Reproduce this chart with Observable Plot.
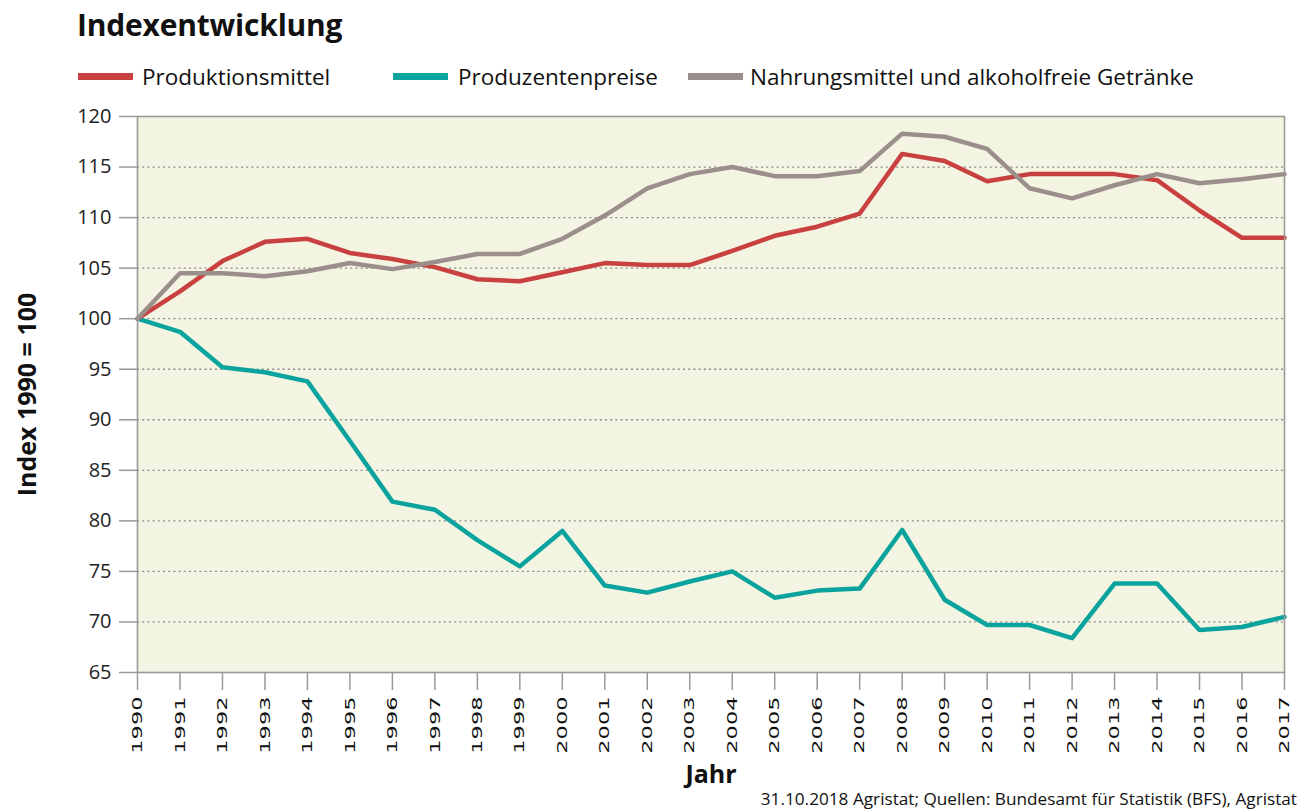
<!DOCTYPE html>
<html>
<head>
<meta charset="utf-8">
<script src="https://cdn.jsdelivr.net/npm/d3@7"></script>
<script src="https://cdn.jsdelivr.net/npm/@observablehq/plot@0.6"></script>
<style>
  html, body { margin: 0; padding: 0; background: #fff; }
  body { width: 1310px; height: 812px; position: relative; overflow: hidden; font-family: "Open Sans", sans-serif; color: #111; }
  #title { position: absolute; left: 77px; top: 6px; font-size: 30px; font-weight: bold; line-height: 37px; letter-spacing: -0.2px; }
  .sw { position: absolute; top: 73px; width: 55px; height: 7px; }
  .lt { position: absolute; top: 64px; font-size: 22.5px; line-height: 26px; }
  #chart { position: absolute; left: 0; top: 100px; }
  #caption { position: absolute; right: 13px; top: 789px; font-size: 17.2px; line-height: 20px; }
</style>
</head>
<body>
<div id="title">Indexentwicklung</div>
<div id="legend"></div>
<div id="chart"></div>
<div id="caption">31.10.2018 Agristat; Quellen: Bundesamt für Statistik (BFS), Agristat</div>
<script>
const years = [1990, 1991, 1992, 1993, 1994, 1995, 1996, 1997, 1998, 1999, 2000, 2001, 2002, 2003, 2004, 2005, 2006, 2007, 2008, 2009, 2010, 2011, 2012, 2013, 2014, 2015, 2016, 2017];
const produktionsmittel = [100, 102.7, 105.7, 107.6, 107.9, 106.5, 105.9, 105.1, 103.9, 103.7, 104.6, 105.5, 105.3, 105.3, 106.7, 108.2, 109.1, 110.4, 116.3, 115.6, 113.6, 114.3, 114.3, 114.3, 113.7, 110.7, 108.0, 108.0];
const produzentenpreise = [100, 98.7, 95.2, 94.7, 93.8, 87.9, 81.9, 81.1, 78.1, 75.5, 79.0, 73.6, 72.9, 74.0, 75.0, 72.4, 73.1, 73.3, 79.1, 72.2, 69.7, 69.7, 68.4, 73.8, 73.8, 69.2, 69.5, 70.5];
const nahrungsmittel = [100, 104.5, 104.5, 104.2, 104.7, 105.5, 104.9, 105.6, 106.4, 106.4, 107.9, 110.2, 112.9, 114.3, 115.0, 114.1, 114.1, 114.6, 118.3, 118.0, 116.8, 112.9, 111.9, 113.2, 114.3, 113.4, 113.8, 114.3];
const seriesNames = ["Produktionsmittel", "Produzentenpreise", "Nahrungsmittel und alkoholfreie Getränke"];
const seriesColors = ["#C8403F", "#0AA39D", "#9A8F8A"];
const yTicks = [65, 70, 75, 80, 85, 90, 95, 100, 105, 110, 115, 120];
const gridTicks = [70, 75, 80, 85, 90, 95, 100, 105, 110, 115];

// legend
const legendX = [[78, 142], [393, 458], [688, 750]];
const legend = document.getElementById("legend");
seriesNames.forEach((n, i) => {
  const s = document.createElement("div");
  s.className = "sw"; s.style.left = legendX[i][0] + "px"; s.style.background = seriesColors[i];
  const t = document.createElement("div");
  t.className = "lt"; t.style.left = legendX[i][1] + "px"; t.textContent = n;
  legend.appendChild(s); legend.appendChild(t);
});

const allValues = [produktionsmittel, produzentenpreise, nahrungsmittel];
const table = [];
seriesNames.forEach((n, i) => years.forEach((y, j) => table.push({series: n, year: y, value: allValues[i][j]})));

const drawOrder = [1, 0, 2];

const plot = Plot.plot({
  width: 1310,
  height: 690,
  marginTop: 16,
  marginBottom: 118,
  marginLeft: 137,
  marginRight: 26,
  style: {fontFamily: "'Open Sans', sans-serif", color: "#222", background: "transparent"},
  x: {domain: [1990, 2017]},
  y: {domain: [65, 120]},
  color: {domain: seriesNames, range: seriesColors},
  marks: [
    Plot.frame({fill: "#F4F4E3"}),
    Plot.gridY(gridTicks, {stroke: "#8a8a8a", strokeOpacity: 1, strokeWidth: 1.3, strokeDasharray: "2,3.2"}),
    Plot.axisY({ticks: yTicks, tickSize: 18, tickPadding: 8, fontSize: 20, stroke: "#999", strokeWidth: 1.5, label: null}),
    Plot.axisX({ticks: years, tickFormat: d => String(d), tickRotate: -90, tickSize: 18, tickPadding: 6, fontSize: 14.5, stroke: "#999", strokeWidth: 1.5, label: null, fontFamily: "'DejaVu Sans', sans-serif", fill: "#111"}),
    ...drawOrder.map(i => Plot.line(table.filter(d => d.series === seriesNames[i]), {x: "year", y: "value", stroke: "series", strokeWidth: 4.5, strokeLinejoin: "round"})),
    Plot.frame({stroke: "#999", strokeWidth: 1.6}),
    Plot.text(["Jahr"], {frameAnchor: "bottom", dy: 110, fontSize: 25, fontWeight: "bold", fill: "#111"}),
    Plot.text(["Index 1990 = 100"], {frameAnchor: "left", textAnchor: "middle", dx: -110, rotate: -90, fontSize: 25, fontWeight: "bold", fill: "#111"})
  ]
});
document.getElementById("chart").appendChild(plot);

// stretch the rotated year labels along their reading direction
d3.select(plot).selectAll('g[aria-label="x-axis tick label"] text').each(function() {
  const t = this.getAttribute("transform") || "";
  if (t.includes("rotate")) this.setAttribute("transform", t + " scale(1.55,1)");
});
</script>
</body>
</html>
